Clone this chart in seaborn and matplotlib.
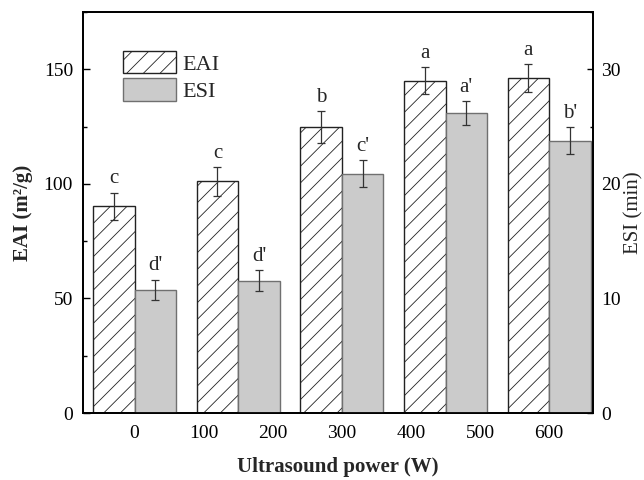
import numpy as np
import pandas as pd
import matplotlib
matplotlib.use("Agg")
import matplotlib.pyplot as plt
import seaborn as sns
from matplotlib.ticker import MultipleLocator

# ---- data ----
power = [0, 150, 300, 450, 600]
eai = [90.2, 101.1, 124.8, 145.0, 146.2]
eai_err = [6.0, 6.3, 6.8, 6.0, 6.2]
esi = [10.74, 11.56, 20.9, 26.2, 23.76]
esi_err = [0.91, 0.95, 1.2, 1.04, 1.18]
eai_letters = ["c", "c", "b", "a", "a"]
esi_letters = ["d'", "d'", "c'", "a'", "b'"]
xticks = [0, 100, 200, 300, 400, 500, 600]

sns.set_theme(style="ticks")
plt.rcParams["font.family"] = ["Liberation Serif", "DejaVu Serif"]
plt.rcParams["hatch.linewidth"] = 0.6
plt.rcParams["hatch.color"] = "#333333"

W, H = 644, 480
fig = plt.figure(figsize=(W / 100, H / 100), dpi=100)
ax_left, ax_bottom, ax_w, ax_h = 82.7 / W, 1 - 413 / H, 510 / W, (413 - 12) / H
ax = fig.add_axes([ax_left, ax_bottom, ax_w, ax_h])
ax2 = ax.twinx()

half = 30
df_eai = pd.DataFrame({"x": np.array(power) - half, "y": eai})
df_esi = pd.DataFrame({"x": np.array(power) + half, "y": esi})

sns.barplot(data=df_eai, x="x", y="y", native_scale=True, width=0.4,
            color="white", saturation=1, edgecolor="#222222", linewidth=1.0,
            hatch="//", errorbar=None, ax=ax)
sns.barplot(data=df_esi, x="x", y="y", native_scale=True, width=0.4,
            color="#cbcbcb", saturation=1, edgecolor="#707070", linewidth=1.0,
            errorbar=None, ax=ax2)

ax.errorbar(df_eai["x"], eai, yerr=eai_err, fmt="none", ecolor="#333333",
            elinewidth=0.9, capsize=3, capthick=0.9)
ax2.errorbar(df_esi["x"], esi, yerr=esi_err, fmt="none", ecolor="#333333",
             elinewidth=0.9, capsize=3, capthick=0.9)

for x, y, e, t in zip(df_eai["x"], eai, eai_err, eai_letters):
    ax.annotate(t, (x, y + e), xytext=(0, 3), textcoords="offset points",
                ha="center", va="bottom", fontsize=15)
for x, y, e, t in zip(df_esi["x"], esi, esi_err, esi_letters):
    ax2.annotate(t, (x, y + e), xytext=(0, 3), textcoords="offset points",
                 ha="center", va="bottom", fontsize=15)

ax.set_xlim(-75, 663)
ax.set_ylim(0, 175)
ax2.set_ylim(0, 35)
ax.set_xticks(xticks)
ax.set_xticklabels([str(v) for v in xticks])
ax.xaxis.set_minor_locator(MultipleLocator(50))
ax.yaxis.set_major_locator(MultipleLocator(50))
ax.yaxis.set_minor_locator(MultipleLocator(25))
ax2.yaxis.set_major_locator(MultipleLocator(10))
ax2.yaxis.set_minor_locator(MultipleLocator(5))

ax.tick_params(axis="both", which="both", direction="in", colors="black",
               labelsize=14, width=1.0, top=False, right=False)
ax.tick_params(axis="x", which="major", length=3.6, pad=8.5)
ax.tick_params(axis="x", which="minor", length=2.4)
ax.tick_params(axis="y", which="major", length=5, pad=7)
ax.tick_params(axis="y", which="minor", length=3)
ax2.tick_params(axis="y", which="both", direction="in", colors="black",
                labelsize=14, width=1.0)
ax2.tick_params(axis="y", which="major", length=4, pad=6)
ax2.tick_params(axis="y", which="minor", length=2.5)

for a in (ax, ax2):
    for s in a.spines.values():
        s.set_color("black")
        s.set_linewidth(1.3)

ax.set_xlabel("Ultrasound power (W)", fontsize=15, fontweight="bold", labelpad=11)
ax.set_ylabel("EAI (m²/g)", fontsize=15, fontweight="bold")
ax2.set_ylabel("ESI (min)", fontsize=15)
ax.yaxis.set_label_coords((33 - 82.7) / 510, 0.5)
ax2.yaxis.set_label_coords((624 - 82.7) / 510, 0.5)

handles = [ax.patches[0], ax2.patches[0]]
ax2.legend(handles, ["EAI", "ESI"], loc="upper left",
           bbox_to_anchor=(123 / W, 1 - 50.7 / H), bbox_transform=fig.transFigure,
           frameon=False, borderpad=0, borderaxespad=0, handlelength=2.4,
           handleheight=1.2, labelspacing=0.15, handletextpad=0.25, fontsize=16)

fig.savefig("out.png", dpi=100)
